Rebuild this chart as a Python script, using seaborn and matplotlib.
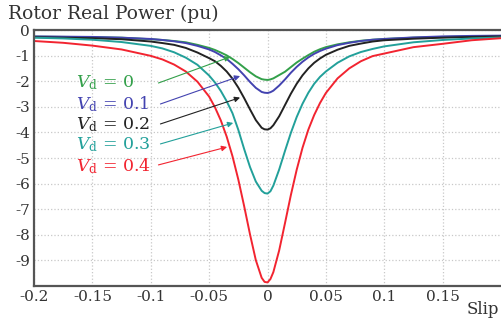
import numpy as np
import pandas as pd
import matplotlib
matplotlib.use("Agg")
import matplotlib.pyplot as plt
import seaborn as sns

slip = [-0.2, -0.175, -0.15, -0.125, -0.1, -0.09, -0.08, -0.07, -0.06, -0.05,
        -0.045, -0.04, -0.035, -0.03, -0.025, -0.02, -0.015, -0.01, -0.005, -0.0025,
        0.0, 0.0025, 0.005, 0.01, 0.015, 0.02, 0.025, 0.03, 0.035, 0.04,
        0.045, 0.05, 0.06, 0.07, 0.08, 0.09, 0.1, 0.125, 0.15, 0.175, 0.2]

# rotor real power (pu) for each Vd
p_vd0 = [-0.26, -0.27, -0.28, -0.30, -0.36, -0.39, -0.43, -0.48, -0.58, -0.70,
         -0.78, -0.88, -0.99, -1.13, -1.29, -1.47, -1.65, -1.81, -1.92, -1.94,
         -1.95, -1.93, -1.89, -1.76, -1.63, -1.45, -1.27, -1.12, -0.98, -0.85,
         -0.75, -0.67, -0.56, -0.48, -0.42, -0.38, -0.35, -0.30, -0.27, -0.25, -0.24]
p_vd1 = [-0.25, -0.26, -0.27, -0.30, -0.35, -0.39, -0.44, -0.51, -0.62, -0.76,
         -0.86, -0.99, -1.13, -1.32, -1.53, -1.77, -2.03, -2.26, -2.42, -2.45,
         -2.46, -2.43, -2.37, -2.17, -1.93, -1.67, -1.44, -1.24, -1.07, -0.93,
         -0.82, -0.73, -0.59, -0.50, -0.43, -0.38, -0.35, -0.29, -0.25, -0.23, -0.22]
p_vd2 = [-0.28, -0.30, -0.32, -0.36, -0.45, -0.51, -0.58, -0.70, -0.88, -1.10,
         -1.22, -1.40, -1.62, -1.90, -2.25, -2.66, -3.10, -3.52, -3.82, -3.88,
         -3.89, -3.84, -3.72, -3.37, -2.93, -2.49, -2.10, -1.77, -1.50, -1.28,
         -1.11, -0.97, -0.77, -0.62, -0.53, -0.45, -0.40, -0.34, -0.30, -0.27, -0.25]
p_vd3 = [-0.30, -0.33, -0.38, -0.47, -0.62, -0.72, -0.87, -1.08, -1.36, -1.78,
         -2.05, -2.38, -2.78, -3.25, -3.90, -4.65, -5.35, -5.92, -6.28, -6.37,
         -6.39, -6.30, -6.08, -5.45, -4.72, -4.02, -3.40, -2.88, -2.45, -2.10,
         -1.83, -1.62, -1.28, -1.03, -0.86, -0.74, -0.64, -0.48, -0.39, -0.33, -0.29]
p_vd4 = [-0.43, -0.50, -0.61, -0.76, -1.01, -1.15, -1.35, -1.62, -2.02, -2.60,
         -3.02, -3.53, -4.16, -4.93, -5.84, -6.88, -7.98, -8.99, -9.68, -9.84,
         -9.86, -9.73, -9.46, -8.61, -7.54, -6.45, -5.46, -4.60, -3.89, -3.32,
         -2.85, -2.46, -1.89, -1.50, -1.22, -1.02, -0.92, -0.67, -0.54, -0.40, -0.32]

vd_names = ["0", "0.1", "0.2", "0.3", "0.4"]
colors = ["#33a04a", "#4343b0", "#222222", "#22a09a", "#f22430"]

rows = []
for name, vals in zip(vd_names, [p_vd0, p_vd1, p_vd2, p_vd3, p_vd4]):
    for s, p in zip(slip, vals):
        rows.append({"slip": s, "power": p, "vd": name})
df = pd.DataFrame(rows)

sns.set_style("white")
plt.rcParams["font.family"] = ["DejaVu Serif"]
plt.rcParams["mathtext.fontset"] = "dejavuserif"

fig = plt.figure(figsize=(5.01, 3.23), dpi=100)
ax = fig.add_axes([34 / 501, 37 / 323, 467 / 501, 256 / 323])

sns.lineplot(data=df, x="slip", y="power", hue="vd", palette=colors,
             estimator=None, sort=False, legend=False, linewidth=1.4, ax=ax)

ax.set_xlim(-0.2, 0.2)
ax.set_ylim(-10, 0)
xt = [-0.2, -0.15, -0.1, -0.05, 0, 0.05, 0.1, 0.15]
ax.set_xticks(xt)
ax.set_xticklabels(["-0.2", "-0.15", "-0.1", "-0.05", "0", "0.05", "0.1", "0.15"])
yt = [0, -1, -2, -3, -4, -5, -6, -7, -8, -9]
ax.set_yticks(yt)
ax.set_yticklabels([str(v) if v == 0 else "-" + str(-v) for v in yt])
ax.tick_params(length=0, labelsize=11, colors="#333333", pad=3)
ax.grid(True, color="#c8c8c8", linestyle=":", linewidth=0.9)
ax.set_xlabel("")
ax.set_ylabel("")
for side in ["left", "bottom", "top"]:
    ax.spines[side].set_color("#555555")
    ax.spines[side].set_linewidth(1.6)
ax.spines["right"].set_visible(False)

# labels with arrows
label_y = [-2.07, -2.89, -3.71, -4.49, -5.31]
arrow_start = [(-0.0934, -2.07), (-0.0917, -2.89), (-0.0917, -3.67),
               (-0.0917, -4.45), (-0.0934, -5.27)]
arrow_tip = [(-0.032, -1.05), (-0.0235, -1.80), (-0.0235, -2.64),
             (-0.0294, -3.63), (-0.0346, -4.57)]
for name, col, ly, st, tip in zip(vd_names, colors, label_y, arrow_start, arrow_tip):
    ax.text(-0.164, ly, r"$V_{\mathrm{d}}$ = " + name, color=col, fontsize=12.5,
            va="center", ha="left")
    ax.annotate("", xy=tip, xytext=st,
                arrowprops=dict(arrowstyle="-|>", color=col, lw=0.8,
                                mutation_scale=8, shrinkA=0, shrinkB=0))

fig.text(8 / 501, 1 - 14 / 323, "Rotor Real Power (pu)", fontsize=13.5,
         color="#333333", va="center", ha="left")
fig.text(467 / 501, 1 - 310 / 323, "Slip", fontsize=12, color="#333333",
         va="center", ha="left")

fig.savefig("out.png", dpi=100)
